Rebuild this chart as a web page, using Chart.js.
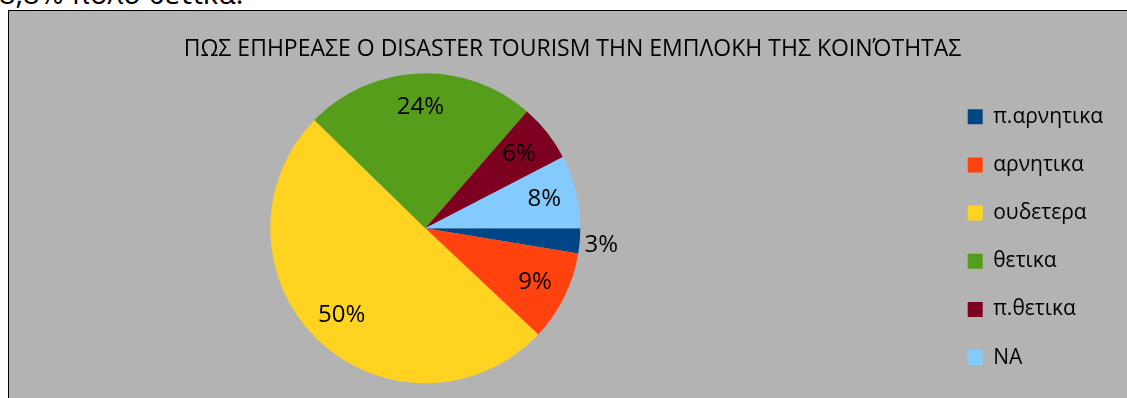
<!DOCTYPE html>
<html>
<head>
<meta charset="utf-8">
<script src="https://cdn.jsdelivr.net/npm/chart.js@4/dist/chart.umd.min.js"></script>
<style>
  body { margin: 0; width: 1127px; height: 398px; overflow: hidden; background: #fff; font-family: 'Open Sans', sans-serif; position: relative; }
  #prev { position: absolute; left: -1px; top: -22px; font-size: 29px; line-height: 29px; color: #000; white-space: nowrap; }
  #box { position: absolute; left: 8px; top: 10px; width: 1200px; height: 420px; background: #b3b3b3; border: 1px solid #000; overflow: hidden; }
  #chart { position: absolute; left: -99px; top: 0; }
  #title { position: absolute; left: 0; top: 34px; width: 1145px; text-align: center; font-size: 23px; line-height: 26px; color: #000; white-space: nowrap; }
</style>
</head>
<body>
<div id="prev">8,8% πολύ θετικά.</div>
<div id="box">
  <canvas id="chart" width="1240" height="388"></canvas>
</div>
<div id="title">ΠΩΣ ΕΠΗΡΕΑΣΕ Ο DISASTER TOURISM ΤΗΝ ΕΜΠΛΟΚΗ ΤΗΣ ΚΟΙΝΌΤΗΤΑΣ</div>
<script>
const categories = ['π.αρνητικα', 'αρνητικα', 'ουδετερα', 'θετικα', 'π.θετικα', 'NA'];
const values = [2.6, 9.4, 50.3, 24.1, 6.0, 7.6];
const colors = ['#004586', '#ff420e', '#ffd320', '#579d1c', '#7e0021', '#83caff'];

Chart.defaults.font.family = "'Open Sans', sans-serif";
Chart.defaults.color = '#000';

// percentage labels on the slices (small blue one goes outside)
const pieLabels = {
  id: 'pieLabels',
  afterDatasetsDraw(chart, args, opts) {
    const ctx = chart.ctx;
    const meta = chart.getDatasetMeta(0);
    const total = values.reduce((a, b) => a + b, 0);
    ctx.save();
    ctx.font = opts.size + "px 'Open Sans', sans-serif";
    ctx.fillStyle = '#000';
    ctx.textAlign = 'center';
    ctx.textBaseline = 'middle';
    meta.data.forEach((arc, i) => {
      const p = arc.getProps(['x', 'y', 'startAngle', 'endAngle', 'outerRadius'], true);
      const mid = (p.startAngle + p.endAngle) / 2 + opts.shift[i];
      const r = p.outerRadius * opts.radius[i];
      const txt = Math.round(values[i] / total * 100) + '%';
      ctx.fillText(txt, p.x + Math.cos(mid) * r, p.y + Math.sin(mid) * r);
    });
    ctx.restore();
  }
};

const ctx = document.getElementById('chart').getContext('2d');
const chart = new Chart(ctx, {
  type: 'pie',
  data: {
    labels: categories,
    datasets: [{
      data: values,
      backgroundColor: colors,
      borderWidth: 0
    }]
  },
  options: {
    responsive: false,
    animation: false,
    rotation: 90,
    radius: 155,
    layout: {
      padding: { left: 0, right: 37, top: 50.4, bottom: 3.8 }
    },
    plugins: {
      title: { display: false },
      tooltip: { enabled: false },
      legend: {
        position: 'right',
        align: 'end',
        maxWidth: 174,
        labels: {
          boxWidth: 15,
          boxHeight: 15,
          padding: 27.16,
          font: { size: 21 },
          color: '#000'
        }
      },
      pieLabels: {
        size: 24,
        radius: [1.14, 0.79, 0.78, 0.78, 0.77, 0.79],
        shift: [0.012, 0, 0, 0, 0, 0]
      }
    }
  },
  plugins: [pieLabels]
});
</script>
</body>
</html>
